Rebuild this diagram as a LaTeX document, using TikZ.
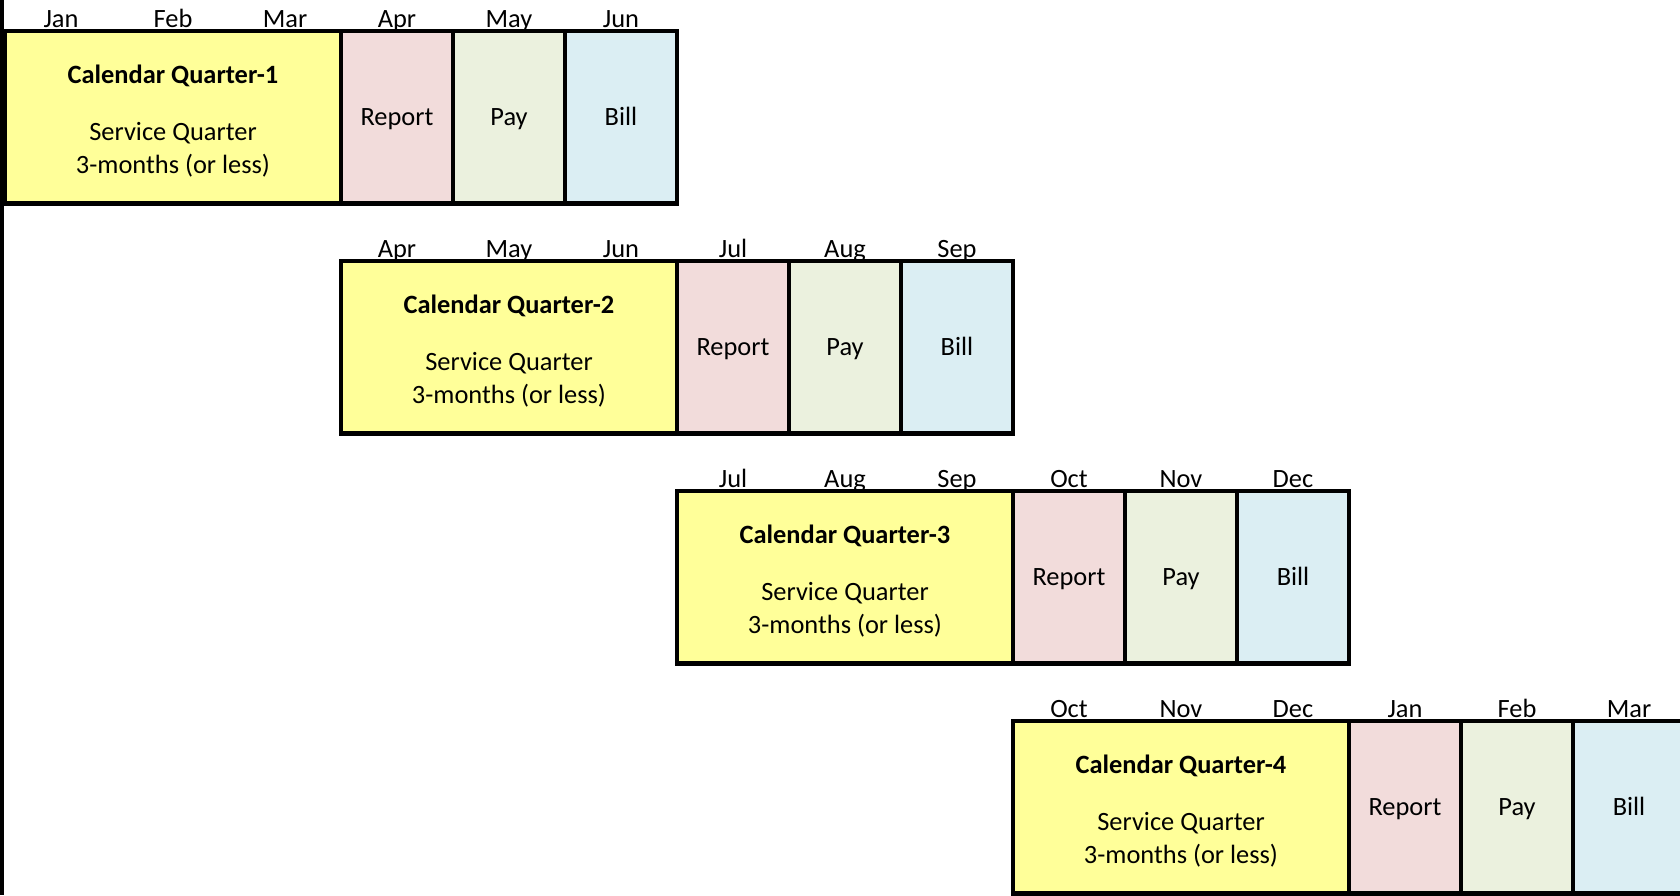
\documentclass[tikz,border=0pt]{standalone}
\usepackage{fontspec}
\setmainfont{Carlito}
\usepackage{tikz}
\usetikzlibrary{positioning}
\definecolor{qyellow}{HTML}{FFFF99}
\definecolor{reppink}{HTML}{F2DCDB}
\definecolor{paygreen}{HTML}{EBF1DE}
\definecolor{billblue}{HTML}{DBEEF3}
\tikzset{
  cell/.style={draw=black, line width=2.3pt, outer sep=0pt, inner sep=0pt,
    minimum height=86.25pt, align=center},
  qbox/.style={cell, fill=qyellow, minimum width=168pt},
  stepcell/.style={cell, minimum width=56pt, text height=10pt, text depth=2pt},
  repbox/.style={stepcell, fill=reppink},
  paybox/.style={stepcell, fill=paygreen},
  billbox/.style={stepcell, fill=billblue},
  mon/.style={anchor=base, inner sep=0pt}
}
\newcommand{\qtext}[1]{\rule{0pt}{13.5pt}\textbf{Calendar Quarter-#1}\\[12pt]Service Quarter\\3-months (or less)}

\begin{document}
\begin{tikzpicture}[x=0.5pt, y=-0.5pt, font=\fontsize{13.2pt}{16.5pt}\selectfont]
\useasboundingbox (0,0) rectangle (1680,895);
\coordinate (axtop) at (2,0);
\coordinate (axbot) at (2,895);
\draw[line width=2.3pt] (axtop) -- (axbot);
% month labels
\node[mon] (jan1) at (61,27) {Jan};
\node[mon] (feb1) at (173,27) {Feb};
\node[mon] (mar1) at (285,27) {Mar};
\node[mon] (apr1) at (397,27) {Apr};
\node[mon] (may1) at (509,27) {May};
\node[mon] (jun1) at (621,27) {Jun};
\node[mon] (apr2) at (397,257) {Apr};
\node[mon] (may2) at (509,257) {May};
\node[mon] (jun2) at (621,257) {Jun};
\node[mon] (jul2) at (733,257) {Jul};
\node[mon] (aug2) at (845,257) {Aug};
\node[mon] (sep2) at (957,257) {Sep};
\node[mon] (jul3) at (733,487) {Jul};
\node[mon] (aug3) at (845,487) {Aug};
\node[mon] (sep3) at (957,487) {Sep};
\node[mon] (oct3) at (1069,487) {Oct};
\node[mon] (nov3) at (1181,487) {Nov};
\node[mon] (dec3) at (1293,487) {Dec};
\node[mon] (oct4) at (1069,717) {Oct};
\node[mon] (nov4) at (1181,717) {Nov};
\node[mon] (dec4) at (1293,717) {Dec};
\node[mon] (jan4) at (1405,717) {Jan};
\node[mon] (feb4) at (1517,717) {Feb};
\node[mon] (mar4) at (1629,717) {Mar};
% quarters
\node[qbox] (q1) at (173,117.25) {\qtext{1}};
\node[repbox, right=0pt of q1] (rep1) {Report};
\node[paybox, right=0pt of rep1] (pay1) {Pay};
\node[billbox, right=0pt of pay1] (bill1) {Bill};
\node[qbox] (q2) at (509,347.25) {\qtext{2}};
\node[repbox, right=0pt of q2] (rep2) {Report};
\node[paybox, right=0pt of rep2] (pay2) {Pay};
\node[billbox, right=0pt of pay2] (bill2) {Bill};
\node[qbox] (q3) at (845,577.25) {\qtext{3}};
\node[repbox, right=0pt of q3] (rep3) {Report};
\node[paybox, right=0pt of rep3] (pay3) {Pay};
\node[billbox, right=0pt of pay3] (bill3) {Bill};
\node[qbox] (q4) at (1181,807.25) {\qtext{4}};
\node[repbox, right=0pt of q4] (rep4) {Report};
\node[paybox, right=0pt of rep4] (pay4) {Pay};
\node[billbox, right=0pt of pay4] (bill4) {Bill};
\end{tikzpicture}
\end{document}
